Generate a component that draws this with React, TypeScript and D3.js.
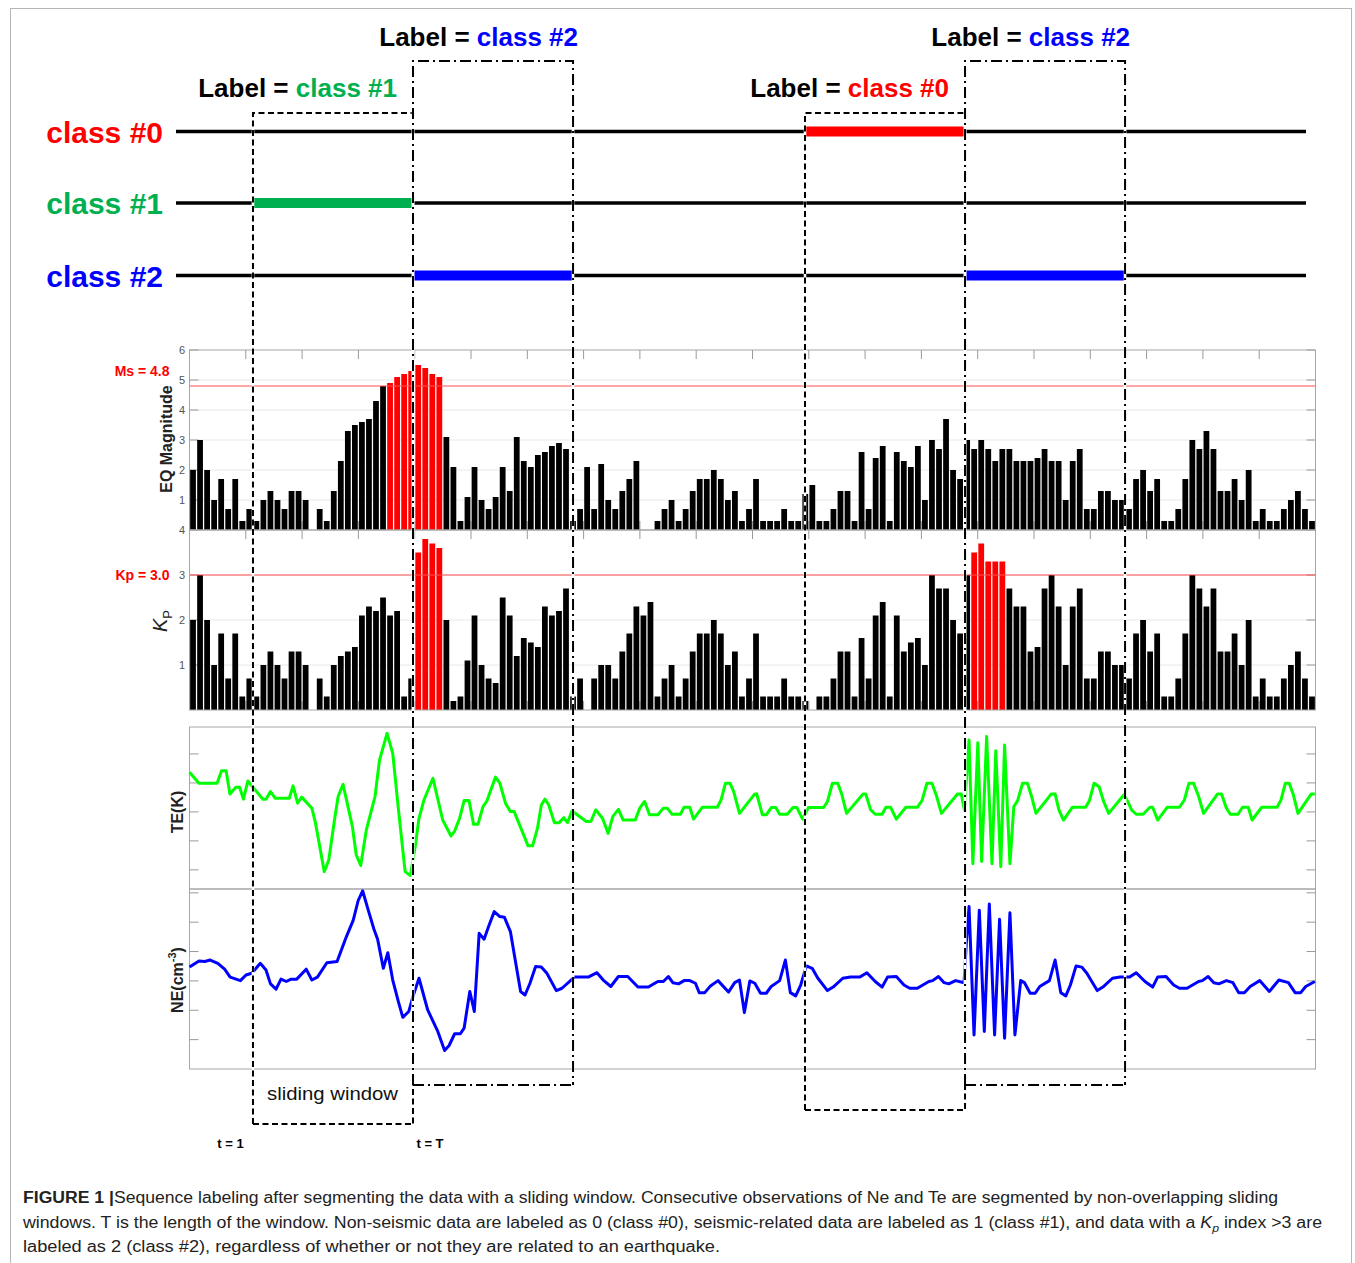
import React from "react";
import * as d3 from "d3";

// one bar per time step, 160 steps across the panels
const barCount = 160;

const eqMagnitude = [
  2.0, 3.0, 2.0, 1.0, 1.7, 0.7, 1.7, 0.3, 0.7, 0.3,
  1.0, 1.3, 1.0, 0.7, 1.3, 1.3, 1.0, 0, 0.7, 0.3,
  1.3, 2.3, 3.3, 3.5, 3.6, 3.7, 4.3, 4.8, 4.9, 5.1,
  5.2, 5.3, 5.5, 5.4, 5.2, 5.1, 3.1, 2.1, 0.3, 1.1,
  2.1, 1.0, 0.7, 1.1, 2.1, 1.3, 3.1, 2.3, 2.1, 2.5,
  2.6, 2.8, 2.9, 2.7, 0.3, 0.7, 2.1, 0.7, 2.2, 1.0,
  0.7, 1.3, 1.7, 2.3, 0, 0, 0.3, 0.7, 1.0, 0.3,
  0.7, 1.3, 1.7, 1.7, 2.0, 1.7, 1.0, 1.3, 0.3, 0.7,
  1.7, 0.3, 0.3, 0.3, 0.7, 0.3, 0.3, 1.2, 1.5, 0.3,
  0.3, 0.7, 1.3, 1.3, 0.3, 2.6, 0.7, 2.4, 2.8, 0.3,
  2.6, 2.3, 2.1, 2.8, 1.0, 3.0, 2.7, 3.7, 2.0, 1.7,
  3.0, 2.7, 3.0, 2.7, 2.3, 2.7, 2.7, 2.3, 2.3, 2.3,
  2.4, 2.7, 2.3, 2.3, 1.0, 2.3, 2.7, 0.7, 0.7, 1.3,
  1.3, 1.0, 1.0, 0.7, 1.7, 2.0, 1.3, 1.7, 0.3, 0.3,
  0.7, 1.7, 3.0, 2.7, 3.3, 2.7, 1.3, 1.3, 1.7, 1.0,
  2.0, 0.3, 0.7, 0.3, 0.3, 0.7, 1.0, 1.3, 0.7, 0.3,
];

const kpIndex = [
  2.0, 3.0, 2.0, 1.0, 1.7, 0.7, 1.7, 0.3, 0.7, 0.3,
  1.0, 1.3, 1.0, 0.7, 1.3, 1.3, 1.0, 0, 0.7, 0.3,
  1.0, 1.2, 1.3, 1.4, 2.1, 2.3, 2.2, 2.5, 2.1, 2.2,
  0.3, 0.7, 3.5, 3.8, 3.7, 3.6, 2.0, 0.2, 0.3, 1.1,
  2.1, 1.0, 0.7, 0.6, 2.5, 2.1, 1.2, 1.6, 1.5, 1.4,
  2.3, 2.1, 2.2, 2.7, 0.3, 0.7, 0, 0.7, 1.0, 1.0,
  0.7, 1.3, 1.7, 2.3, 2.1, 2.4, 0.3, 0.7, 1.0, 0.3,
  0.7, 1.3, 1.7, 1.7, 2.0, 1.7, 1.0, 1.3, 0.3, 0.7,
  1.7, 0.3, 0.3, 0.3, 0.7, 0.3, 0.3, 0.2, 0, 0.3,
  0.3, 0.7, 1.3, 1.3, 0.3, 1.6, 0.7, 2.1, 2.4, 0.3,
  2.1, 1.3, 1.5, 1.6, 1.0, 3.0, 2.7, 2.7, 2.0, 1.7,
  3.0, 3.5, 3.7, 3.3, 3.3, 3.3, 2.7, 2.3, 2.3, 1.3,
  1.4, 2.7, 3.0, 2.3, 1.0, 2.3, 2.7, 0.7, 0.7, 1.3,
  1.3, 1.0, 1.0, 0.7, 1.7, 2.0, 1.3, 1.7, 0.3, 0.3,
  0.7, 1.7, 3.0, 2.7, 2.3, 2.7, 1.3, 1.3, 1.7, 1.0,
  2.0, 0.3, 0.7, 0.3, 0.3, 0.7, 1.0, 1.3, 0.7, 0.3,
];

// [time step, value] vertices of the TE and NE curves
const teSeries: [number, number][] = [
  [0, 1.37], [1.35, 0.99], [3.92, 0.99], [4.56, 1.42], [5.2, 1.42], [5.74, 0.62], [6.59, 0.85], [7.12, 0.85],
  [7.66, 0.44], [8.3, 1.07], [8.84, 0.9], [10.44, 0.44], [10.87, 0.44], [11.51, 0.7], [12.2, 0.47], [14.18, 0.47],
  [14.72, 0.9], [15.36, 0.3], [15.94, 0.51], [17.39, 0.13], [17.91, -0.39], [19.15, -2.06], [19.79, -1.66],
  [20.6, -0.28], [21.12, 0.53], [21.82, 0.95], [23.15, -0.51], [23.69, -1.48], [24.33, -1.85], [25.13, -0.62],
  [26.36, 0.53], [27.0, 1.79], [28.07, 2.71], [28.88, 2.02], [29.67, 0.13], [30.64, -2.06], [31.38, -2.2],
  [32.07, -1.2], [32.61, -0.22], [33.31, 0.41], [34.59, 1.16], [35.98, -0.28], [37.16, -0.83], [37.68, -0.66],
  [38.38, -0.22], [39.02, 0.39], [39.72, 0.39], [40.37, -0.43], [40.99, -0.43], [41.7, 0.18], [42.23, 0.36],
  [43.47, 1.2], [44.1, 0.99], [44.9, 0.3], [45.6, 0.01], [46.14, 0.01], [48.11, -1.17], [48.75, -1.17],
  [49.45, -0.56], [49.99, 0.24], [50.51, 0.44], [51.05, 0.24], [51.85, -0.37], [52.54, -0.37], [53.18, -0.2],
  [53.72, -0.37], [54.36, 0.04], [55.33, -0.14], [56.39, -0.33], [57.03, -0.33], [57.73, 0.07], [58.69, -0.22],
  [59.49, -0.74], [60.14, -0.16], [60.94, 0.09], [61.63, -0.28], [63.34, -0.28], [63.98, 0.13], [64.67, 0.36],
  [65.37, -0.1], [66.55, -0.1], [67.34, 0.13], [67.88, 0.13], [68.58, -0.08], [69.76, -0.08], [70.28, 0.16],
  [71.09, 0.16], [71.62, -0.25], [72.86, 0.16], [74.99, 0.16], [75.53, 0.41], [76.16, 0.99], [76.8, 0.99],
  [77.33, 0.7], [78.15, -0.05], [80.33, 0.62], [80.6, 0.62], [81.41, -0.1], [81.96, -0.1], [82.66, 0.15],
  [83.31, 0.15], [83.86, -0.08], [84.94, -0.08], [85.75, 0.15], [86.31, 0.15], [87.12, -0.25], [87.94, 0.15],
  [90.11, 0.15], [90.65, 0.36], [91.36, 0.99], [92.12, 0.99], [92.71, 0.59], [93.37, -0.05], [95.71, 0.62],
  [96.09, 0.62], [96.79, 0.07], [97.44, -0.08], [98.42, -0.08], [98.96, 0.16], [99.62, 0.16], [100.44, -0.25],
  [101.79, 0.16], [103.42, 0.16], [104.08, 0.39], [104.79, 0.99], [105.5, 0.99], [106.15, 0.55], [106.85, -0.05],
  [109.13, 0.62], [109.67, 0.62], [110.11, 0.07], [110.77, 2.48], [111.31, -1.79], [112.02, 2.39], [112.56, -1.71],
  [113.27, 2.6], [114.03, -1.79], [114.57, 2.11], [115.28, -1.89], [115.82, 2.31], [116.58, -1.79], [117.13, 0.18],
  [117.67, 0.39], [118.38, 0.99], [119.08, 0.99], [119.73, 0.47], [120.28, -0.05], [122.46, 0.62], [123.0, 0.62],
  [123.54, 0.07], [124.19, -0.28], [125.44, 0.16], [127.34, 0.16], [127.88, 0.39], [128.54, 0.99], [129.25, 0.87],
  [129.9, 0.36], [130.61, -0.05], [132.78, 0.59], [133.32, 0.36], [133.86, 0.07], [134.52, -0.08], [135.5, -0.08],
  [136.48, 0.16], [136.86, 0.16], [137.57, -0.28], [138.92, 0.16], [140.67, 0.16], [141.36, 0.41], [142.02, 0.99],
  [142.67, 0.99], [143.38, 0.55], [144.09, -0.05], [146.09, 0.62], [146.65, 0.62], [147.34, 0.13], [147.9, -0.08],
  [148.98, -0.08], [149.63, 0.16], [150.45, 0.16], [150.99, -0.28], [152.36, 0.16], [154.53, 0.16], [155.07, 0.39],
  [155.72, 0.99], [156.26, 0.99], [156.86, 0.59], [157.51, -0.05], [159.41, 0.62], [159.9, 0.62],
];

const neSeries: [number, number][] = [
  [0, 0.47], [1.35, 0.68], [2.16, 0.66], [2.95, 0.71], [4.02, 0.6], [4.99, 0.4], [5.78, 0.13], [7.23, 0.01],
  [8.03, 0.2], [8.84, 0.26], [10.06, 0.6], [10.87, 0.37], [11.51, -0.1], [12.3, -0.28], [13.0, 0.06], [13.75, -0.02],
  [14.45, 0.06], [15.24, 0.06], [16.58, 0.4], [17.39, 0.03], [18.18, 0.13], [19.52, 0.62], [20.97, 0.66],
  [22.3, 1.51], [23.27, 2.07], [23.96, 2.73], [24.6, 3.07], [25.4, 2.41], [26.21, 1.76], [26.73, 1.42],
  [27.54, 0.43], [28.18, 0.96], [28.88, 0.03], [29.67, -0.7], [30.31, -1.24], [31.16, -1.04], [31.82, -0.48],
  [32.61, 0.09], [33.85, -0.99], [35.28, -1.72], [36.25, -2.37], [36.89, -2.2], [37.68, -1.8], [38.49, -1.8],
  [39.02, -1.61], [39.83, -0.36], [40.47, -1.04], [41.16, 1.62], [41.86, 1.42], [42.5, 1.85], [43.3, 2.36],
  [44.1, 2.19], [44.74, 2.17], [45.6, 1.68], [46.24, 0.77], [47.05, -0.36], [47.68, -0.48], [48.38, -0.08],
  [49.18, 0.49], [49.99, 0.47], [50.78, 0.26], [52.12, -0.33], [52.93, -0.25], [54.69, 0.13], [56.66, 0.13],
  [57.9, 0.28], [58.79, 0.03], [59.87, -0.19], [60.94, 0.15], [62.27, 0.15], [63.72, -0.21], [65.21, -0.21],
  [66.55, -0.02], [67.34, -0.02], [68.04, 0.15], [68.68, -0.06], [69.49, -0.1], [70.28, 0.01], [71.09, 0.01],
  [71.89, -0.08], [72.43, -0.4], [73.22, -0.4], [74.03, -0.17], [75.1, 0.01], [76.59, -0.38], [77.47, -0.06],
  [78.15, 0.03], [78.85, -1.08], [79.62, 0.0], [80.33, -0.08], [81.14, -0.42], [81.96, -0.42], [82.66, -0.19],
  [83.86, 0.01], [84.67, 0.71], [85.38, -0.4], [86.14, -0.51], [86.85, -0.14], [87.66, 0.51], [88.48, 0.43],
  [89.29, 0.09], [90.65, -0.33], [91.46, -0.21], [92.83, 0.09], [93.92, 0.13], [95.27, 0.13], [96.25, 0.28],
  [97.44, -0.02], [98.42, -0.21], [99.19, 0.13], [100.44, 0.15], [101.52, -0.14], [102.34, -0.25], [103.42, -0.25],
  [105.06, -0.02], [105.6, 0.01], [106.42, 0.15], [107.23, -0.06], [107.88, -0.1], [108.86, 0.01], [110.06, -0.06],
  [110.38, 1.28], [110.77, 2.53], [111.48, -1.84], [112.23, 2.41], [112.94, -1.72], [113.65, 2.62], [114.4, -1.84],
  [115.11, 2.1], [115.82, -1.95], [116.58, 2.32], [117.29, -1.84], [118.11, 0.01], [118.65, -0.06], [119.46, -0.42],
  [120.17, -0.42], [120.82, -0.19], [122.19, 0.01], [123.0, 0.71], [123.81, -0.4], [124.52, -0.51], [125.17, -0.14],
  [125.98, 0.51], [126.8, 0.47], [127.51, 0.26], [128.98, -0.33], [129.79, -0.21], [131.15, 0.09], [132.24, 0.13],
  [133.59, 0.13], [134.52, 0.28], [135.77, -0.02], [136.86, -0.21], [137.57, 0.13], [138.76, 0.15], [139.84, -0.14],
  [140.67, -0.25], [141.75, -0.25], [143.38, -0.02], [143.92, 0.01], [144.74, 0.15], [145.55, -0.06], [146.26, -0.1],
  [147.34, 0.01], [148.27, -0.06], [149.09, -0.4], [149.9, -0.4], [150.72, -0.19], [152.07, 0.01], [153.44, -0.36],
  [154.8, 0.03], [156.15, -0.06], [157.1, -0.4], [157.9, -0.4], [158.61, -0.19], [159.9, -0.02],
];

const msThreshold = 4.8;
const kpThreshold = 3.0;
const eqTicks = [1, 2, 3, 4, 5, 6];
const kpTicks = [1, 2, 3, 4];
const teTicks = [-2, -1, 0, 1, 2];
const neTicks = [-2, -1, 0, 1, 2, 3];

const classNames = ["class #0", "class #1", "class #2"];
const classColors = ["#ff0000", "#00b050", "#0000ff"];

// sliding windows (start in time steps) and the class they get
const windowLength = 22.74;
const windowStarts = [9.02, 31.76, 87.46, 110.2];
const windowLabels = [1, 2, 0, 2];

const FONT = "'Liberation Sans', Arial, sans-serif";

export default function App() {
  const L = 189.5, R = 1315.5;
  const x = d3.scaleLinear().domain([0, barCount]).range([L, R]);
  const band = d3.scaleBand<number>().domain(d3.range(barCount)).range([L, R])
    .paddingInner(0.18).paddingOuter(0.09);
  const yEq = d3.scaleLinear().domain([0, 6]).range([530, 350]);
  const yKp = d3.scaleLinear().domain([0, 4]).range([710, 530]);
  const yTe = d3.scaleLinear().domain([-2.66, 2.93]).range([889, 727]);
  const yNe = d3.scaleLinear().domain([-3.0, 3.13]).range([1069, 889]);
  const xTicks = d3.range(8, barCount, 8);

  const teLine = d3.line<[number, number]>().x(d => x(d[0])).y(d => yTe(d[1]));
  const neLine = d3.line<[number, number]>().x(d => x(d[0])).y(d => yNe(d[1]));

  const classY = [131.5, 203, 275.5];

  const barPanel = (values: number[], y: d3.ScaleLinear<number, number>, threshold: number,
    ticks: number[], key: string) => {
    const [bottom, top] = y.range();
    return (
      <g key={key}>
        {ticks.filter(t => y(t) > top).map(t => (
          <line key={"g" + t} x1={L} x2={R} y1={y(t)} y2={y(t)} stroke="#e8e8e8" strokeWidth={1} />
        ))}
        {xTicks.map(t => (
          <g key={"t" + t}>
            <line x1={x(t)} x2={x(t)} y1={top} y2={top + 9} stroke="#999" />
            <line x1={x(t)} x2={x(t)} y1={bottom} y2={bottom - 9} stroke="#999" />
          </g>
        ))}
        {ticks.map(t => (
          <g key={"r" + t}>
            <line x1={R - 9} x2={R} y1={y(t)} y2={y(t)} stroke="#999" />
            <line x1={L} x2={L + 9} y1={y(t)} y2={y(t)} stroke="#999" />
          </g>
        ))}
        {values.map((v, i) => (
          <rect key={i} x={band(i)} width={band.bandwidth()} y={y(v)} height={bottom - y(v)}
            fill={v > threshold ? "#ff0000" : "#000"} />
        ))}
        <line x1={L} x2={R} y1={y(threshold)} y2={y(threshold)} stroke="#ff5050" strokeWidth={1.2} />
        <rect x={L} y={top} width={R - L} height={bottom - top} fill="none" stroke="#a6a6a6" />
        {ticks.map(t => (
          <text key={"l" + t} x={185} y={y(t) + 4} fontSize={11} fill="#555" textAnchor="end"
            fontFamily={FONT}>{t}</text>
        ))}
      </g>
    );
  };

  const linePanel = (y: d3.ScaleLinear<number, number>, ticks: number[], key: string) => {
    const [bottom, top] = y.range();
    return (
      <g key={key}>
        <rect x={L} y={top} width={R - L} height={bottom - top} fill="none" stroke="#a6a6a6" />
        {ticks.map(t => (
          <g key={t}>
            <line x1={L} x2={L + 9} y1={y(t)} y2={y(t)} stroke="#999" />
            <line x1={R - 9} x2={R} y1={y(t)} y2={y(t)} stroke="#999" />
          </g>
        ))}
      </g>
    );
  };

  const boxes = windowStarts.map((s, i) => {
    const label = windowLabels[i];
    const x0 = x(s), x1 = x(s + windowLength);
    const top = label === 2 ? 61 : 113;
    const bottom = label === 2 ? 1085 : label === 1 ? 1124 : 1110;
    const dash = label === 2 ? "11 4 2 4" : "6 3.5";
    const d = `M${x0},${bottom}V${top}H${x1}V${bottom}`;
    return { x0, x1, top, bottom, dash, d, label, closed: `M${x0},${bottom}H${x1}` };
  });

  const captionStyle = { fontFamily: FONT, fontSize: 16, fill: "#222" };

  return (
    <svg width={1355} height={1263} style={{ position: "absolute", left: 0, top: 0, background: "#fff" }}>
      <rect x={10.5} y={8.5} width={1341} height={1300} fill="none" stroke="#b5b5b5" />

      {/* class timelines */}
      {classNames.map((c, k) => (
        <g key={c}>
          <text x={163} y={classY[k] + 11} textAnchor="end" fontFamily={FONT} fontWeight="bold"
            fontSize={30} fill={classColors[k]}>{c}</text>
          <line x1={176} x2={1306} y1={classY[k]} y2={classY[k]} stroke="#000" strokeWidth={3.5} />
        </g>
      ))}
      {boxes.map((b, i) => (
        <line key={"seg" + i} x1={b.x0} x2={b.x1} y1={classY[b.label]} y2={classY[b.label]}
          stroke={classColors[b.label]} strokeWidth={10} />
      ))}

      {barPanel(eqMagnitude, yEq, msThreshold, eqTicks, "eq")}
      {barPanel(kpIndex, yKp, kpThreshold, kpTicks, "kp")}

      <text x={169.5} y={yEq(msThreshold) - 10} textAnchor="end" fontFamily={FONT} fontWeight="bold"
        fontSize={14} fill="#ff0000">Ms = 4.8</text>
      <text x={169.5} y={yKp(kpThreshold) + 5} textAnchor="end" fontFamily={FONT} fontWeight="bold"
        fontSize={14} fill="#ff0000">Kp = 3.0</text>

      <text transform="translate(172,439) rotate(-90)" textAnchor="middle" fontFamily={FONT}
        fontWeight="bold" fontSize={16} fill="#222">EQ Magnitude</text>
      <text transform="translate(167,621) rotate(-90)" textAnchor="middle" fontFamily={FONT} fill="#222">
        <tspan fontStyle="italic" fontSize={20}>K</tspan>
        <tspan fontSize={13} dy={5}>P</tspan>
      </text>

      {linePanel(yTe, teTicks, "te")}
      {linePanel(yNe, neTicks, "ne")}
      <path d={teLine(teSeries) || ""} fill="none" stroke="#00ff00" strokeWidth={3} strokeLinejoin="round" />
      <path d={neLine(neSeries) || ""} fill="none" stroke="#0000ff" strokeWidth={3} strokeLinejoin="round" />

      <text transform="translate(183,812) rotate(-90)" textAnchor="middle" fontFamily={FONT}
        fontWeight="bold" fontSize={16} fill="#222">TE(K)</text>
      <text transform="translate(183,980) rotate(-90)" textAnchor="middle" fontFamily={FONT}
        fontWeight="bold" fontSize={16} fill="#222">
        NE(cm<tspan fontSize={11} dy={-7}>-3</tspan><tspan dy={7}>)</tspan>
      </text>

      {/* sliding windows */}
      {boxes.map((b, i) => (
        <g key={"box" + i}>
          <path d={b.d} fill="none" stroke="#fff" strokeWidth={2.6} />
          <path d={b.d} fill="none" stroke="#000" strokeWidth={2} strokeDasharray={b.dash} />
          <path d={b.closed} fill="none" stroke="#000" strokeWidth={2} strokeDasharray={b.dash} />
          <text x={b.label === 2 ? b.x1 + 5 : b.x1 - 16} y={b.label === 2 ? 46 : 97} textAnchor="end"
            fontFamily={FONT} fontWeight="bold" fontSize={26}>
            <tspan fill="#000">Label = </tspan>
            <tspan fill={classColors[b.label]}>{classNames[b.label]}</tspan>
          </text>
        </g>
      ))}

      <text x={267} y={1100} fontFamily={FONT} fontSize={18} fill="#111" textLength={131}
        lengthAdjust="spacingAndGlyphs">sliding window</text>
      <text x={x(0) + 41} y={1148} textAnchor="middle" fontFamily={FONT} fontWeight="bold" fontSize={13}>t = 1</text>
      <text x={x(windowStarts[1]) + 17} y={1148} textAnchor="middle" fontFamily={FONT} fontWeight="bold"
        fontSize={13}>t = T</text>

      {/* caption */}
      <text x={23} y={1203} textLength={1255} lengthAdjust="spacingAndGlyphs" {...captionStyle}>
        <tspan fontWeight="bold">FIGURE 1 |</tspan>
        <tspan>Sequence labeling after segmenting the data with a sliding window. Consecutive observations of Ne and Te are segmented by non-overlapping sliding</tspan>
      </text>
      <text x={23} y={1228} textLength={1299} lengthAdjust="spacingAndGlyphs" {...captionStyle}>
        <tspan>windows. T is the length of the window. Non-seismic data are labeled as 0 (class #0), seismic-related data are labeled as 1 (class #1), and data with a </tspan>
        <tspan fontStyle="italic">K</tspan>
        <tspan fontStyle="italic" fontSize={11} dy={4}>p</tspan>
        <tspan dy={-4}> index &gt;3 are</tspan>
      </text>
      <text x={23} y={1252} textLength={697} lengthAdjust="spacingAndGlyphs" {...captionStyle}>
        labeled as 2 (class #2), regardless of whether or not they are related to an earthquake.
      </text>
    </svg>
  );
}
